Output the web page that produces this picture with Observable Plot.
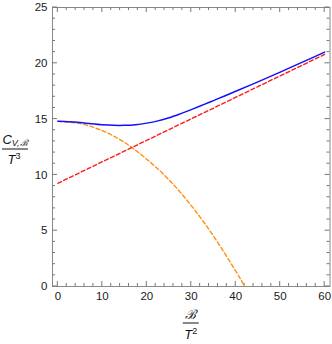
<!DOCTYPE html>
<html><head><meta charset="utf-8">
<script src="https://cdn.jsdelivr.net/npm/d3@7"></script>
<script src="https://cdn.jsdelivr.net/npm/@observablehq/plot@0.6"></script>
<style>body{margin:0;background:#fff;} svg{display:block;}</style>
</head><body><div id="chart"></div>
<script>
// tick values
const xTicks = [0, 10, 20, 30, 40, 50, 60];
const xMinor = [2, 4, 6, 8, 12, 14, 16, 18, 22, 24, 26, 28, 32, 34, 36, 38, 42, 44, 46, 48, 52, 54, 56, 58];
const yTicks = [0, 5, 10, 15, 20, 25];
const yMinor = [1, 2, 3, 4, 6, 7, 8, 9, 11, 12, 13, 14, 16, 17, 18, 19, 21, 22, 23, 24];

// full curve (blue, solid)
const fullX = [0, 2.5, 5, 7.5, 10, 12.5, 15, 17.5, 20, 22.5, 25, 27.5, 30, 32.5, 35, 37.5, 40, 45, 50, 55, 60];
const fullY = [14.8, 14.77, 14.69, 14.58, 14.49, 14.44, 14.44, 14.5, 14.64, 14.84, 15.12, 15.47, 15.85, 16.25, 16.66, 17.07, 17.49, 18.34, 19.21, 20.1, 21.0];

// large-field asymptote (red, dashed)
const asymX = [0, 60];
const asymY = [9.25, 20.8];

// small-field expansion (orange, dashed)
const smallX = [0, 5, 10, 15, 20, 25, 30, 35, 40, 42];
const smallY = [14.8, 14.59, 13.96, 12.91, 11.4, 9.56, 7.25, 4.52, 1.38, 0];

const toRows = (xs, ys) => xs.map((x, i) => ({x, y: ys[i]}));

function decor(index, scales, values, dimensions) {
  const sx = scales.x, sy = scales.y;
  const {width, height, marginLeft, marginRight, marginTop, marginBottom} = dimensions;
  const L = marginLeft, R = width - marginRight, T = marginTop, B = height - marginBottom;
  const g = d3.create("svg:g");
  const t = g.append("g").attr("stroke", "#777").attr("stroke-width", 1).attr("fill", "none");
  const maj = 5, min = 3;
  for (const v of xTicks) {
    const px = sx(v);
    t.append("line").attr("x1", px).attr("x2", px).attr("y1", B).attr("y2", B - maj);
    t.append("line").attr("x1", px).attr("x2", px).attr("y1", T).attr("y2", T + maj);
  }
  for (const v of xMinor) {
    const px = sx(v);
    t.append("line").attr("x1", px).attr("x2", px).attr("y1", B).attr("y2", B - min);
    t.append("line").attr("x1", px).attr("x2", px).attr("y1", T).attr("y2", T + min);
  }
  for (const v of yTicks) {
    const py = sy(v);
    t.append("line").attr("y1", py).attr("y2", py).attr("x1", L).attr("x2", L + maj);
    t.append("line").attr("y1", py).attr("y2", py).attr("x1", R).attr("x2", R - maj);
  }
  for (const v of yMinor) {
    const py = sy(v);
    t.append("line").attr("y1", py).attr("y2", py).attr("x1", L).attr("x2", L + min);
    t.append("line").attr("y1", py).attr("y2", py).attr("x1", R).attr("x2", R - min);
  }
  // axis titles (fractions)
  const lab = g.append("g").attr("fill", "#111").attr("font-family", "Liberation Sans, Arial, sans-serif").attr("font-size", 13);
  // y title
  const yc = 15, ybar = 149;
  const yt1 = lab.append("text").attr("x", yc).attr("y", ybar - 5).attr("text-anchor", "middle");
  yt1.append("tspan").attr("font-style", "italic").text("C");
  yt1.append("tspan").attr("font-style", "italic").attr("font-size", 9).attr("dy", 2).text("V,ℬ");
  lab.append("line").attr("x1", 2).attr("x2", 28).attr("y1", ybar).attr("y2", ybar).attr("stroke", "#111").attr("stroke-width", 1);
  const yt2 = lab.append("text").attr("x", yc - 1).attr("y", ybar + 15).attr("text-anchor", "middle");
  yt2.append("tspan").attr("font-style", "italic").text("T");
  yt2.append("tspan").attr("font-size", 9).attr("dy", -5).text("3");
  // x title
  const xc = (L + R) / 2, xbar = 323;
  lab.append("text").attr("x", xc).attr("y", xbar - 4).attr("text-anchor", "middle").attr("font-style", "italic").text("ℬ");
  lab.append("line").attr("x1", xc - 8).attr("x2", xc + 8).attr("y1", xbar).attr("y2", xbar).attr("stroke", "#111").attr("stroke-width", 1);
  const xt2 = lab.append("text").attr("x", xc).attr("y", xbar + 16).attr("text-anchor", "middle");
  xt2.append("tspan").attr("font-style", "italic").text("T");
  xt2.append("tspan").attr("font-size", 9).attr("dy", -5).text("2");
  return g.node();
}

const chart = Plot.plot({
  width: 332,
  height: 344,
  marginLeft: 52,
  marginRight: 2.5,
  marginTop: 7,
  marginBottom: 58,
  x: {domain: [-1.2, 61.2]},
  y: {domain: [0, 25]},
  style: {fontFamily: "Liberation Sans, Arial, sans-serif", fontSize: "11px", color: "#1a1a1a", background: "#fff"},
  marks: [
    Plot.frame({stroke: "#888"}),
    Plot.axisX({ticks: xTicks, tickSize: 0, tickPadding: 5, label: null, fontSize: 11.5}),
    Plot.axisY({ticks: yTicks, tickSize: 0, tickPadding: 5, label: null, fontSize: 11.5}),
    decor,
    Plot.line(toRows(smallX, smallY), {x: "x", y: "y", stroke: "#ff9010", strokeWidth: 1.4, strokeDasharray: "4,2.5", curve: "natural"}),
    Plot.line(toRows(asymX, asymY), {x: "x", y: "y", stroke: "#ff1a1a", strokeWidth: 1.4, strokeDasharray: "4,2.5"}),
    Plot.line(toRows(fullX, fullY), {x: "x", y: "y", stroke: "#1010ff", strokeWidth: 1.5, curve: "catmull-rom"})
  ]
});
document.getElementById("chart").appendChild(chart);
</script>
</body></html>
